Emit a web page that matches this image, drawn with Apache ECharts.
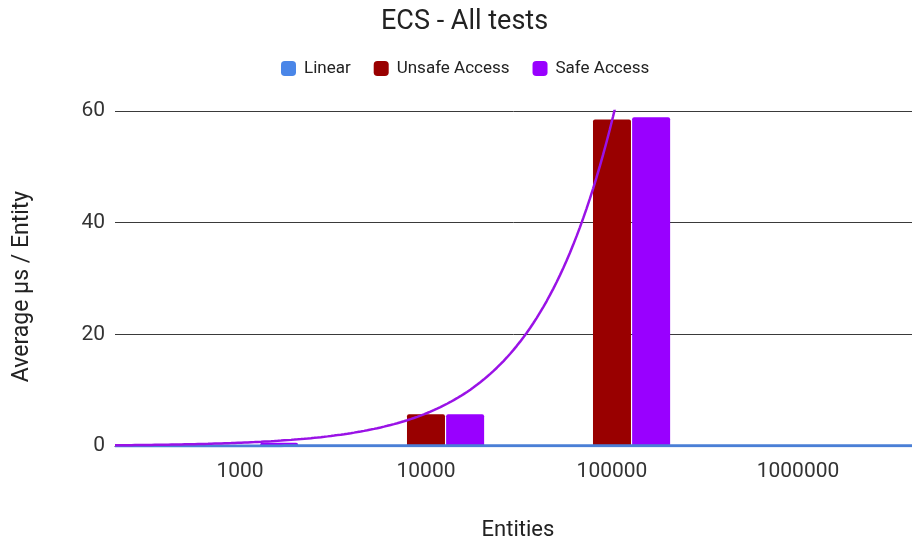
<!DOCTYPE html>
<html>
<head>
<meta charset="utf-8">
<script src="https://cdn.jsdelivr.net/npm/echarts@6/dist/echarts.min.js"></script>
<style>
  html, body { margin: 0; padding: 0; background: #fff; }
  #chart { width: 912px; height: 539px; }
</style>
</head>
<body>
<div id="chart"></div>
<script>
// Entity counts on the x axis
const categories = ['1000', '10000', '100000', '1000000'];
// Average microseconds per entity for each test
const linearValues = [0.02, 0.03, 0.03, 0.04];
const unsafeValues = [0.05, 5.7, 58.5, null];
const safeValues = [0.59, 5.7, 58.9, null];
const yTicks = [0, 20, 40, 60];

const COLORS = { linear: '#4a86e8', unsafe: '#990000', safe: '#9900ff' };
const X_MIN = -0.672, X_MAX = 3.613;

// Exponential least-squares fit (on ln y) over category positions
function expFit(values) {
  const pts = values.map((v, i) => [i, v]).filter(p => p[1] != null && p[1] > 0);
  const n = pts.length;
  const mx = pts.reduce((s, p) => s + p[0], 0) / n;
  const my = pts.reduce((s, p) => s + Math.log(p[1]), 0) / n;
  let sxy = 0, sxx = 0;
  pts.forEach(p => { sxy += (p[0] - mx) * (Math.log(p[1]) - my); sxx += (p[0] - mx) ** 2; });
  const b = sxy / sxx;
  const a = Math.exp(my - b * mx);
  return x => a * Math.exp(b * x);
}
// Linear least-squares fit over category positions
function linFit(values) {
  const pts = values.map((v, i) => [i, v]).filter(p => p[1] != null);
  const n = pts.length;
  const mx = pts.reduce((s, p) => s + p[0], 0) / n;
  const my = pts.reduce((s, p) => s + p[1], 0) / n;
  let sxy = 0, sxx = 0;
  pts.forEach(p => { sxy += (p[0] - mx) * (p[1] - my); sxx += (p[0] - mx) ** 2; });
  const b = sxy / sxx;
  return x => my + b * (x - mx);
}
function sampleTrend(fn) {
  const out = [];
  const steps = 240;
  for (let k = 0; k <= steps; k++) {
    const x = X_MIN + (X_MAX - X_MIN) * k / steps;
    out.push([x, fn(x)]);
  }
  return out;
}
const toPairs = vals => vals.map((v, i) => [i, v]);

const chart = echarts.init(document.getElementById('chart'), null, { renderer: 'canvas' });
const font = 'Roboto';

chart.setOption({
  animation: false,
  backgroundColor: '#fff',
  title: {
    text: 'ECS - All tests',
    left: 376, top: 4,
    textStyle: { fontFamily: font, fontSize: 27, fontWeight: 'normal', color: '#222' }
  },
  legend: {
    data: ['Linear', 'Unsafe Access', 'Safe Access'],
    left: 276, top: 55,
    icon: 'roundRect',
    itemWidth: 15, itemHeight: 15, itemGap: 23,
    textStyle: { fontFamily: font, fontSize: 17, color: '#222', padding: [0, 0, 0, 3] }
  },
  grid: { left: 115, right: 0, top: 111, bottom: 93, outerBoundsMode: 'none' },
  xAxis: {
    type: 'value',
    min: X_MIN, max: X_MAX,
    name: 'Entities',
    nameLocation: 'middle',
    nameGap: 73,
    nameTextStyle: { fontFamily: font, fontSize: 22, color: '#222', padding: [0, 0, 0, 9] },
    axisLine: { show: true, lineStyle: { color: '#333' } },
    axisTick: { show: false },
    splitLine: { show: false },
    axisLabel: {
      customValues: [0, 1, 2, 3],
      formatter: v => categories[Math.round(v)],
      fontFamily: font, fontSize: 21, color: '#333', margin: 15
    }
  },
  yAxis: {
    type: 'value',
    min: yTicks[0], max: yTicks[yTicks.length - 1], interval: 20,
    name: 'Average µs / Entity',
    nameLocation: 'middle',
    nameGap: 81,
    nameTextStyle: { fontFamily: font, fontSize: 23, color: '#222', padding: [0, 16, 0, 0] },
    axisLine: { show: false },
    axisTick: { show: false },
    splitLine: { lineStyle: { color: '#3a3a3a', width: 1 } },
    axisLabel: { fontFamily: font, fontSize: 21, color: '#333', margin: 10 }
  },
  series: [
    {
      name: 'Linear', type: 'bar', data: toPairs(linearValues),
      barWidth: 38, barGap: '3%',
      itemStyle: { color: COLORS.linear, borderRadius: [2, 2, 0, 0] }
    },
    {
      name: 'Unsafe Access', type: 'bar', data: toPairs(unsafeValues),
      barWidth: 38, barGap: '3%',
      itemStyle: { color: COLORS.unsafe, borderRadius: [2, 2, 0, 0] }
    },
    {
      name: 'Safe Access', type: 'bar', data: toPairs(safeValues),
      barWidth: 38, barGap: '3%',
      itemStyle: { color: COLORS.safe, borderRadius: [2, 2, 0, 0] }
    },
    {
      name: 'Linear trend', type: 'line', data: sampleTrend(linFit(linearValues)),
      showSymbol: false, silent: true, z: 5, clip: true,
      lineStyle: { color: '#4a7fd6', width: 3 }
    },
    {
      name: 'Safe Access trend', type: 'line', data: sampleTrend(expFit(safeValues)),
      showSymbol: false, silent: true, z: 5, clip: true,
      lineStyle: { color: '#9a12e6', width: 2.5 }
    }
  ]
});
</script>
</body>
</html>
